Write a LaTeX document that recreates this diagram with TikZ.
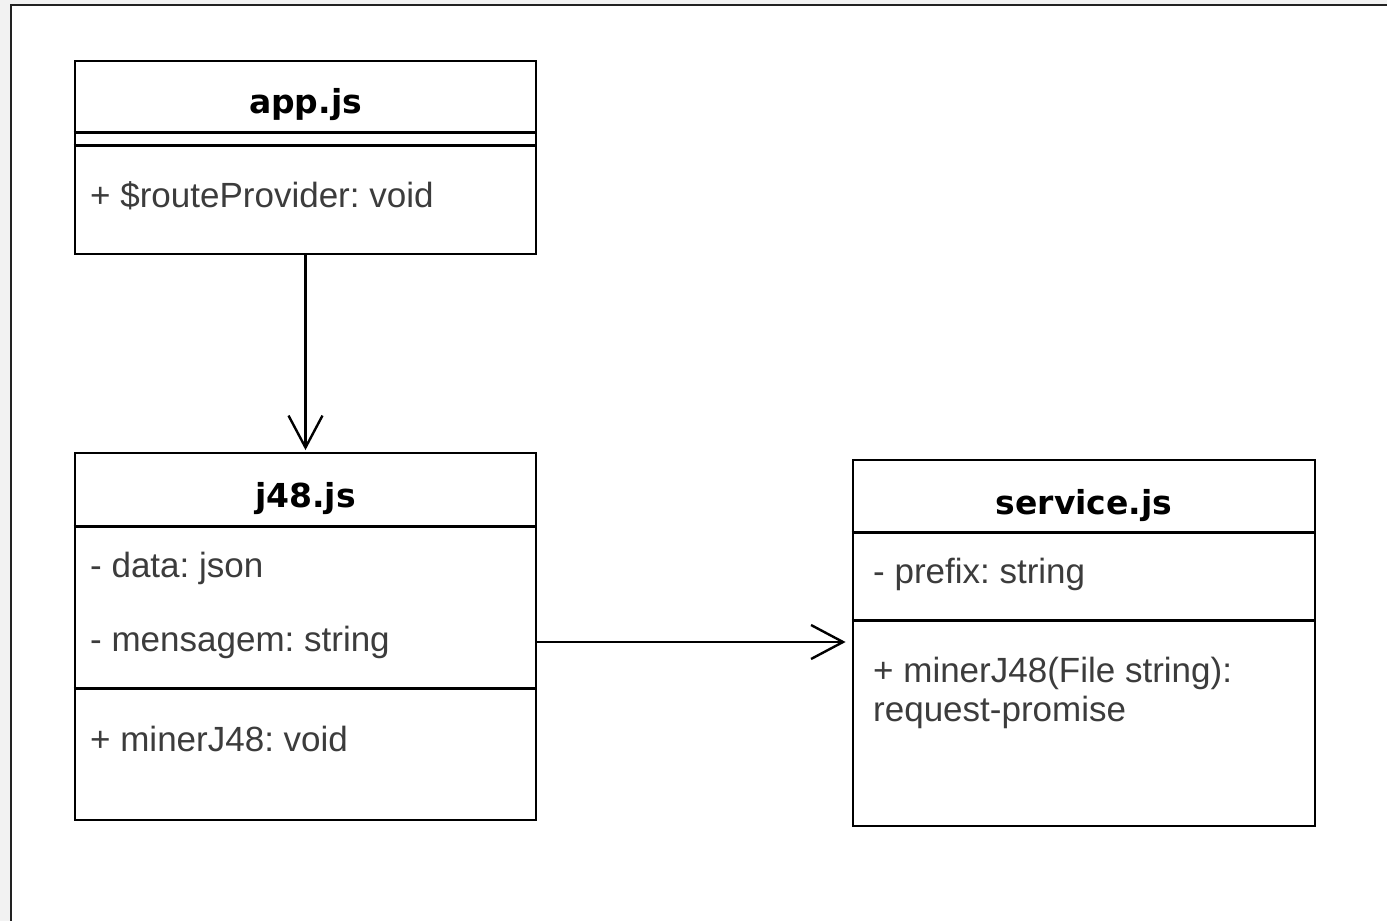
\documentclass[tikz,border=0pt]{standalone}
\usepackage{fontspec}
\setmainfont{Liberation Sans}
\newfontfamily\titlefont{DejaVu Sans}
\usetikzlibrary{arrows.meta}
\definecolor{bodytext}{HTML}{3C3C3C}
\definecolor{pagegray}{HTML}{F2F2F2}
\definecolor{frameline}{HTML}{222222}
\frenchspacing
\begin{document}
\begin{tikzpicture}[x=1pt,y=-1pt,
  umlbox/.style={draw, line width=2.8pt, inner sep=0pt},
  divider/.style={line width=2.8pt},
  classname/.style={font=\titlefont\bfseries\fontsize{33}{40}\selectfont, inner sep=0pt, anchor=base},
  member/.style={font=\fontsize{35}{40}\selectfont, text=bodytext, inner sep=0pt, anchor=base west},
  link/.style={line width=2.4pt, -{Straight Barb[length=32pt,width=34pt]}}
]
% page and frame
\useasboundingbox (0,0) rectangle (1387,921);
\fill[pagegray] (0,0) rectangle (1387,921);
\fill[white] (11,5) rectangle (1387,921);
\draw[frameline, line width=2pt] (11,921) -- (11,5) -- (1387,5);

% app.js
\node[umlbox, minimum width=461pt, minimum height=193pt] (app) at (305.5,157.5) {};
\draw[divider] ([yshift=-73pt]app.north west) -- ([yshift=-73pt]app.north east);
\draw[divider] ([yshift=-86pt]app.north west) -- ([yshift=-86pt]app.north east);
\node[classname] (appname) at (305.5,113) {app.js};
\node[member] (approute) at (90,207) {+ \$routeProvider: void};

% j48.js
\node[umlbox, minimum width=461pt, minimum height=367pt] (j48) at (305.5,636.5) {};
\draw[divider] ([yshift=-75pt]j48.north west) -- ([yshift=-75pt]j48.north east);
\draw[divider] ([yshift=-237pt]j48.north west) -- ([yshift=-237pt]j48.north east);
\node[classname] (j48name) at (305.5,507) {j48.js};
\node[member] (j48data) at (90,577) {- data: json};
\node[member] (j48msg) at (90,651) {- mensagem: string};
\node[member] (j48miner) at (90,751) {+ minerJ48: void};

% service.js
\node[umlbox, minimum width=462pt, minimum height=366pt] (svc) at (1084,643) {};
\draw[divider] ([yshift=-74pt]svc.north west) -- ([yshift=-74pt]svc.north east);
\draw[divider] ([yshift=-162pt]svc.north west) -- ([yshift=-162pt]svc.north east);
\node[classname] (svcname) at (1084,514) {service.js};
\node[member] (svcprefix) at (873,583) {- prefix: string};
\node[member] (svcminer) at (873,682) {+ minerJ48(File string):};
\node[member] (svcret) at (873,721) {request-promise};

% dependencies
\coordinate (linkrow) at (0,642);
\draw[link, shorten >=1.5pt] (app.south) -- (j48.north);
\draw[link, shorten >=6pt] (j48.east |- linkrow) -- (svc.west |- linkrow);
\end{tikzpicture}
\end{document}
